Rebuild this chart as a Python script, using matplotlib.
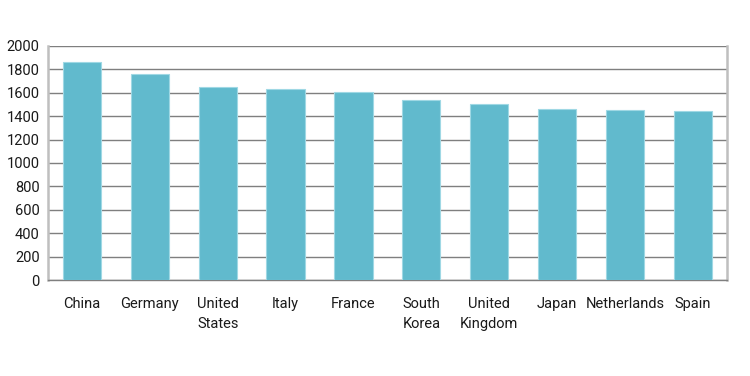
import numpy as np
import matplotlib
matplotlib.use("Agg")
import matplotlib.pyplot as plt

# ----- DATA -----
countries = ["China", "Germany", "United\nStates", "Italy", "France",
             "South\nKorea", "United\nKingdom", "Japan", "Netherlands", "Spain"]
values = [1866, 1758, 1647, 1632, 1607, 1536, 1507, 1462, 1450, 1444]
y_ticks = list(range(0, 2001, 200))

# ----- STYLE -----
bar_color = "#61bacd"
bar_edge = "#9fd8e4"
grid_color = "#7f7f7f"
text_color = "#1a1a1a"

plt.rcParams["font.family"] = ["Roboto", "DejaVu Sans"]

fig = plt.figure(figsize=(7.5, 3.76), dpi=100)
ax = fig.add_axes([0.064, 0.255, 0.905, 0.623])

x = np.arange(len(countries))
ax.bar(x, values, width=0.565, color=bar_color, edgecolor=bar_edge,
       linewidth=0.8, zorder=3)

ax.set_xlim(-0.5, len(countries) - 0.5)
ax.set_ylim(0, 2000)
ax.set_yticks(y_ticks)
ax.set_xticks(x)
ax.set_xticklabels(countries, linespacing=1.5)

ax.yaxis.grid(True, color=grid_color, linewidth=1, zorder=0)
ax.set_axisbelow(True)

ax.tick_params(axis="both", length=0, labelsize=10.5, colors=text_color)
ax.tick_params(axis="x", pad=12.5)
ax.tick_params(axis="y", pad=6)

ax.spines["top"].set_visible(False)
ax.spines["left"].set_color("#bfbfbf")
ax.spines["left"].set_linewidth(1.8)
ax.spines["right"].set_color("#bfbfbf")
ax.spines["right"].set_linewidth(1.8)
ax.spines["bottom"].set_color(grid_color)
ax.spines["bottom"].set_linewidth(1)

plt.savefig("out.png", dpi=100)
